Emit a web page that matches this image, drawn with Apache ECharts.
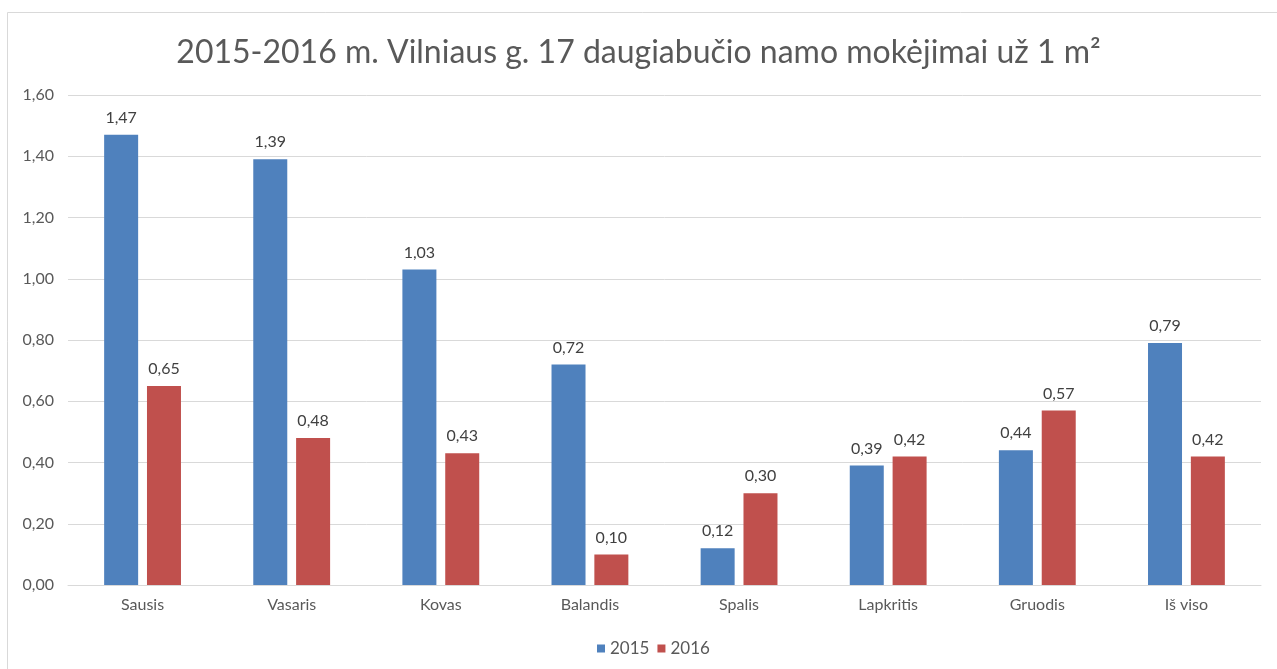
<!DOCTYPE html>
<html><head><meta charset="utf-8">
<script src="https://cdn.jsdelivr.net/npm/echarts@6/dist/echarts.min.js"></script>
<style>html,body{margin:0;padding:0;background:#fff}#c{width:1277px;height:669px}</style>
</head><body><div id="c"></div>
<script>
const categories = ['Sausis','Vasaris','Kovas','Balandis','Spalis','Lapkritis','Gruodis','Iš viso'];
const values2015 = [1.47, 1.39, 1.03, 0.72, 0.12, 0.39, 0.44, 0.79];
const values2016 = [0.65, 0.48, 0.43, 0.10, 0.30, 0.42, 0.57, 0.42];
const seriesNames = ['2015','2016'];
const titleText = '2015-2016 m. Vilniaus g. 17 daugiabučio namo mokėjimai už 1 m²';

const FONT = 'Lato';
const fmt = v => Number(v).toFixed(2).replace('.', ',');
const chart = echarts.init(document.getElementById('c'), null, {renderer:'canvas'});
chart.setOption({
  animation:false,
  backgroundColor:'#fff',
  graphic:[{type:'rect', shape:{x:7.5,y:12.5,width:1300,height:700}, style:{fill:'none', stroke:'#d9d9d9', lineWidth:1}, silent:true}],
  title:{text:titleText, left:'center', top:32, textStyle:{fontFamily:FONT, fontSize:32, fontWeight:'normal', color:'#595959'}},
  legend:{bottom:7, left:592, itemWidth:8, itemHeight:8, itemGap:8, icon:'rect',
    textStyle:{fontFamily:FONT, fontSize:17, color:'#595959'}},
  grid:{left:68, right:16, top:95, bottom:84, containLabel:false},
  xAxis:{type:'category', data:categories,
    axisLine:{lineStyle:{color:'#d9d9d9'}}, axisTick:{show:false},
    axisLabel:{fontFamily:FONT, fontSize:16, color:'#595959', margin:12}},
  yAxis:{type:'value', min:0, max:1.6, interval:0.2,
    axisLine:{show:false}, axisTick:{show:false},
    splitLine:{lineStyle:{color:'#d9d9d9'}},
    axisLabel:{fontFamily:FONT, fontSize:16, color:'#595959', margin:14, formatter:v=>fmt(v)}},
  series:[
    {name:seriesNames[0], type:'bar', data:values2015, barWidth:34, barGap:'26%', itemStyle:{color:'#4F81BD'},
     label:{show:true, position:'top', distance:9, fontFamily:FONT, fontSize:16, color:'#404040', formatter:p=>fmt(p.value)}},
    {name:seriesNames[1], type:'bar', data:values2016, barWidth:34, itemStyle:{color:'#C0504D'},
     label:{show:true, position:'top', distance:9, fontFamily:FONT, fontSize:16, color:'#404040', formatter:p=>fmt(p.value)}}
  ]
});
</script></body></html>
